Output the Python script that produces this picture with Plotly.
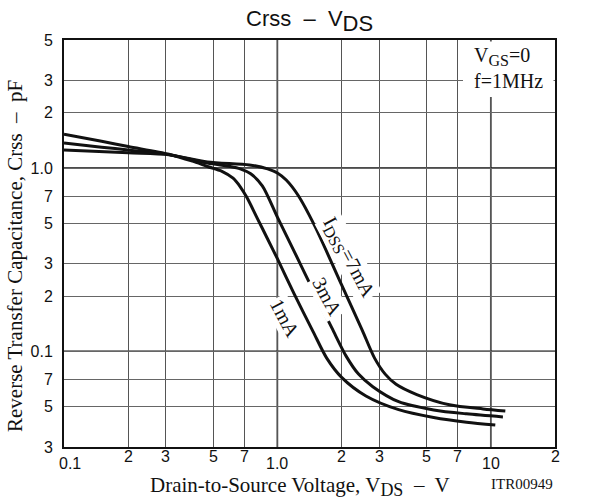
import math
import plotly.graph_objects as go

# Crss vs VDS for three IDSS classes (VGS=0, f=1MHz)
vds_1ma = [0.1, 0.15, 0.2, 0.31, 0.4, 0.47, 0.55, 0.62, 0.67, 0.72, 0.8, 0.9, 1.0, 1.2, 1.47,
           1.7, 2.0, 2.6, 3.7, 5.4, 7.7, 10.5]
crss_1ma = [1.53, 1.40, 1.31, 1.19, 1.09, 1.02, 0.96, 0.88, 0.79, 0.69, 0.54, 0.41, 0.32, 0.205,
            0.128, 0.092, 0.072, 0.057, 0.048, 0.0435, 0.041, 0.0396]

vds_3ma = [0.1, 0.15, 0.2, 0.31, 0.47, 0.6, 0.67, 0.75, 0.85, 1.0, 1.2, 1.5, 1.8, 2.1, 2.4,
           2.8, 3.7, 5.4, 7.7, 11.4]
crss_3ma = [1.37, 1.30, 1.255, 1.185, 1.065, 1.02, 0.99, 0.93, 0.80, 0.54, 0.35, 0.205, 0.134,
            0.094, 0.075, 0.064, 0.053, 0.0478, 0.0455, 0.0438]

vds_7ma = [0.1, 0.2, 0.31, 0.47, 0.74, 0.9, 1.0, 1.1, 1.25, 1.5, 2.0, 2.5, 2.85, 3.2, 3.6,
           4.5, 6.4, 9.2, 11.7]
crss_7ma = [1.255, 1.21, 1.18, 1.08, 1.04, 0.99, 0.94, 0.86, 0.71, 0.48, 0.23, 0.13, 0.092,
            0.075, 0.066, 0.058, 0.051, 0.0484, 0.0472]

# axis ticks
x_tick_vals = [0.1, 0.2, 0.3, 0.5, 0.7, 1, 2, 3, 5, 7, 10, 20]
x_tick_text = ["0.1", "2", "3", "5", "7", "1.0", "2", "3", "5", "7", "10", "2"]
x_decades = [0.1, 1, 10]
y_tick_vals = [0.03, 0.05, 0.07, 0.1, 0.2, 0.3, 0.5, 0.7, 1, 2, 3, 5]
y_tick_text = ["3", "5", "7", "0.1", "2", "3", "5", "7", "1.0", "2", "3", "5"]
y_decades = [0.1, 1]

SERIF = "Liberation Serif, Times New Roman, serif"
SANS = "Liberation Sans, Arial, Helvetica, sans-serif"

# plot area in pixels (for placing frame texts)
PW, PH = 491, 407


def sub(txt, px):
    """Subscript drawn at an explicit pixel size."""
    return f'<sub><span style="font-size:{px}px">{txt}</span></sub>'


# curve labels: (text, vds, crss)
curve_labels = [
    ("I" + sub("DSS", 16) + "=7mA", 2.14, 0.323),
    ("3mA", 1.72, 0.198),
    ("1mA", 1.086, 0.152),
]

fig = go.Figure()
for xs, ys, name in [(vds_1ma, crss_1ma, "1mA"), (vds_3ma, crss_3ma, "3mA"),
                     (vds_7ma, crss_7ma, "7mA")]:
    fig.add_trace(go.Scatter(
        x=xs, y=ys, mode="lines", name=name,
        line=dict(color="#111111", width=3, shape="spline", smoothing=0.8),
        showlegend=False, hoverinfo="skip"))

# heavier grid lines on the decades
for v in [1, 10]:
    fig.add_shape(type="line", xref="x", yref="paper", x0=v, x1=v, y0=0, y1=1,
                  line=dict(color="#111111", width=1.6), layer="below")
for v in y_decades:
    fig.add_shape(type="line", xref="paper", yref="y", x0=0, x1=1, y0=v, y1=v,
                  line=dict(color="#111111", width=1.6), layer="below")

# white panel behind the test-condition note
fig.add_shape(type="rect", xref="paper", yref="paper",
              x0=(463 - 64) / PW, x1=1 - 1.5 / PW, y0=1 - 57 / PH, y1=1 - 1.5 / PH,
              fillcolor="white", line=dict(width=0), layer="above")

annotations = []
# x tick labels (decade labels sit lower)
for v, t in zip(x_tick_vals, x_tick_text):
    is_dec = v in x_decades
    annotations.append(dict(
        x=math.log10(v), y=0, xref="x", yref="paper", text=t, showarrow=False,
        xanchor="center", yanchor="middle", yshift=-16 if is_dec else -9,
        xshift=6 if v == 0.1 else 0,
        font=dict(family=SANS, size=16, color="#111111")))

for t, xv, yv in curve_labels:
    annotations.append(dict(
        x=math.log10(xv), y=math.log10(yv), xref="x", yref="y", text=t,
        showarrow=False, textangle=62, bgcolor="white", borderpad=1,
        font=dict(family=SERIF, size=20, color="#111111")))

annotations += [
    dict(x=(472 - 64) / PW, y=1 - 2 / PH, xref="paper", yref="paper",
         text="V" + sub("GS", 16) + "=0<br>f=1MHz", showarrow=False, align="left",
         xanchor="left", yanchor="top",
         font=dict(family=SERIF, size=20, color="#111111")),
    dict(x=0.5, y=1 + 19 / PH, xref="paper", yref="paper",
         text="Crss  –  V" + sub("DS", 22), showarrow=False,
         xanchor="center", yanchor="middle",
         font=dict(family=SANS, size=22, color="#111111")),
    dict(x=(300 - 64) / PW, y=-(486 - 447) / PH, xref="paper", yref="paper",
         text="Drain-to-Source Voltage, V" + sub("DS", 18) + "  –  V", showarrow=False,
         xanchor="center", yanchor="middle",
         font=dict(family=SERIF, size=21, color="#111111")),
    dict(x=(15 - 64) / PW, y=(447 - 256) / PH, xref="paper", yref="paper",
         text="Reverse Transfer Capacitance, Crss  –  pF", showarrow=False,
         textangle=-90, xanchor="center", yanchor="middle",
         font=dict(family=SERIF, size=21, color="#111111")),
    dict(x=1, y=-(484 - 447) / PH, xref="paper", yref="paper",
         text="ITR00949", showarrow=False, xanchor="right", yanchor="middle",
         font=dict(family=SERIF, size=15, color="#111111")),
]

fig.update_layout(
    width=591, height=500,
    margin=dict(l=64, r=36, t=40, b=53),
    paper_bgcolor="white", plot_bgcolor="white",
    annotations=annotations,
    xaxis=dict(type="log", range=[math.log10(0.1), math.log10(20)],
               tickvals=x_tick_vals, showticklabels=False, ticks="",
               showgrid=True, gridcolor="#555555", gridwidth=1,
               showline=True, linecolor="#111111", linewidth=2, mirror=True,
               zeroline=False),
    yaxis=dict(type="log", range=[math.log10(0.03), math.log10(5)],
               tickvals=y_tick_vals, ticktext=y_tick_text, ticks="",
               ticklabelstandoff=6,
               tickfont=dict(family=SANS, size=16, color="#111111"),
               showgrid=True, gridcolor="#666666", gridwidth=1,
               showline=True, linecolor="#111111", linewidth=2, mirror=True,
               zeroline=False),
)

fig.write_html("out.html")
